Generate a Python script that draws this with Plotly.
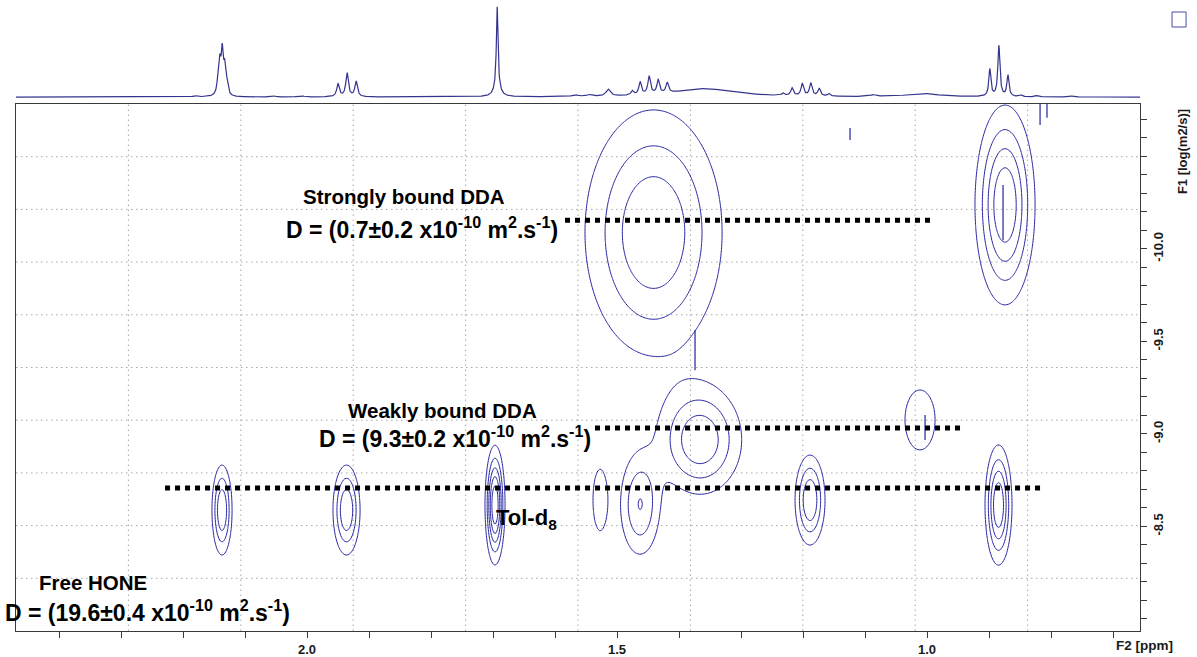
import numpy as np
import plotly.graph_objects as go

# ---------------- 1D projection (F2) : line list ----------------
# chemical shift [ppm], height [% of tallest line], full width at half height [ppm]
proj_ppm = [2.1805, 2.1436, 2.1406, 2.1368, 2.1329, 2.1290, 2.0531, 2.0093,
            1.9500, 1.9354, 1.9208, 1.6933, 1.6933, 1.5678, 1.5445, 1.5143,
            1.4754, 1.4628, 1.4482, 1.4336, 1.4190, 1.3597,
            1.2323, 1.2177, 1.2011, 1.1875, 1.1739, 1.1583, 1.0873, 1.0066,
            0.8987, 0.8841, 0.8695, 0.8491, 0.8228, 0.7664]
proj_height = [1.5, 14, 34, 48, 30, 12, 1.2, 1.5,
               15, 28, 18, 92, 14, 2, 2, 8,
               5, 15, 21, 16, 12, 10,
               3, 9, 14, 15, 9, 3, 2, 4,
               32, 60, 25, 2, 1.5, 1]
proj_fwhm = [0.008, 0.004, 0.004, 0.004, 0.004, 0.004, 0.008, 0.010,
             0.005, 0.005, 0.005, 0.003, 0.010, 0.010, 0.010, 0.008,
             0.005, 0.005, 0.005, 0.005, 0.005, 0.120,
             0.005, 0.005, 0.005, 0.005, 0.005, 0.005, 0.010, 0.060,
             0.004, 0.004, 0.004, 0.006, 0.006, 0.008]

# ---------------- 2D DOSY cross peaks ----------------
# F2 shift [ppm], F1 log(D) [log(m2/s)], gaussian widths in both dimensions, intensity
dosy_ppm = [1.4411, 0.8742, 1.3660, 1.0113,
            2.1371, 1.9363, 1.6968, 1.4629, 1.5274, 1.1887, 0.8847]
dosy_logd = [-10.088, -10.237, -8.966, -9.075,
             -8.588, -8.588, -8.615, -8.615, -8.642, -8.642, -8.615]
dosy_sppm = [0.0664, 0.0270, 0.0407, 0.0250,
             0.0097, 0.0131, 0.0085, 0.0210, 0.0104, 0.0145, 0.0121]
dosy_slogd = [0.398, 0.301, 0.178, 0.167,
              0.146, 0.146, 0.171, 0.179, 0.150, 0.146, 0.181]
dosy_amp = [4.0, 5.0, 3.85, 1.6,
            4.0, 4.0, 6.0, 3.0, 1.8, 4.0, 5.0]

# t1-noise streaks: F2 position [ppm], log(D) start and end
streak_ppm = [1.3742, 1.1242, 0.8177, 0.8065, 0.8774, 1.0032]
streak_from = [-9.560, -10.653, -10.783, -10.783, -10.345, -9.102]
streak_to = [-9.343, -10.588, -10.670, -10.708, -10.047, -8.967]

# ---------------- species and diffusion coefficients ----------------
species = ["Strongly bound DDA", "Weakly bound DDA", "Free HONE"]
d_value = [0.7, 9.3, 19.6]    # x1e-10 m2/s
d_error = [0.2, 0.2, 0.4]     # x1e-10 m2/s

# tick labels
f2_ticks = [2.0, 1.5, 1.0]
f1_ticks = [-10.0, -9.5, -9.0, -8.5]

# ---------------- layout constants ----------------
X_RANGE = [2.4694, 0.6565]
Y_RANGE = [-7.9342, -10.7829]        # bottom, top (log D increases downwards)
W, H = 1197, 657
ML, MR, MT, MB = 16, 57, 0, 26
MAIN_TOP = 0.8352                    # 2D frame: lower part of the paper
PROJ_BOTTOM = 0.8447                 # 1D projection: strip above the frame

CONTOUR_COLOR = "#2222a0"
PROJ_COLOR = "#34348f"
FRAME_COLOR = "#3a3a3a"
GRID_COLOR = "#a8a8a8"
AXIS_TEXT = "#1a1a1a"
FONT = "Liberation Sans, Arial, sans-serif"

# ---------------- build the traces ----------------
xs = np.linspace(X_RANGE[0], X_RANGE[1], 5000)
spec = np.zeros_like(xs)
for p, h, w in zip(proj_ppm, proj_height, proj_fwhm):
    spec += h / (1.0 + ((xs - p) / (w / 2.0)) ** 2)

xg = np.linspace(X_RANGE[0], X_RANGE[1], 760)
yg = np.linspace(Y_RANGE[1], Y_RANGE[0], 360)
XX, YY = np.meshgrid(xg, yg)
ZZ = np.zeros_like(XX)
for p, d, sp, sd, a in zip(dosy_ppm, dosy_logd, dosy_sppm, dosy_slogd, dosy_amp):
    ZZ += a * np.exp(-0.5 * ((XX - p) / sp) ** 2 - 0.5 * ((YY - d) / sd) ** 2)
ZZ = np.round(ZZ, 3)

fig = go.Figure()

fig.add_trace(go.Contour(
    x=xg, y=yg, z=ZZ,
    xaxis="x", yaxis="y",
    contours=dict(start=1, end=8, size=1, coloring="lines"),
    colorscale=[[0, CONTOUR_COLOR], [1, CONTOUR_COLOR]],
    line=dict(width=1),
    showscale=False, hoverinfo="skip",
))

# streaks drawn as short vertical segments (None separates them)
sx, sy = [], []
for p, a, b in zip(streak_ppm, streak_from, streak_to):
    sx += [p, p, None]
    sy += [a, b, None]
fig.add_trace(go.Scatter(
    x=sx, y=sy, xaxis="x", yaxis="y", mode="lines",
    line=dict(color=CONTOUR_COLOR, width=1.2), hoverinfo="skip", connectgaps=False,
))

fig.add_trace(go.Scatter(
    x=xs, y=spec, xaxis="x2", yaxis="y2",
    mode="lines", line=dict(color=PROJ_COLOR, width=1.2),
    hoverinfo="skip",
))

# ---------------- diffusion guide lines and labels ----------------
line_span = [(1.5839, 0.9903), (1.5355, 0.9419), (2.2290, 0.8177)]
title_pos = [(1.8435, -10.2855), (1.7815, -9.1234), (2.3460, -8.1937)]
dlabel_pos = [(1.8153, -10.1126), (1.7613, -8.9829), (2.2573, -8.0424)]

shapes = []
annotations = []
for name, d, e, span, tp, dp in zip(species, d_value, d_error, line_span, title_pos, dlabel_pos):
    level = float(np.log10(d * 1e-10))
    shapes.append(dict(type="line", xref="x", yref="y",
                       x0=span[0], x1=span[1], y0=level, y1=level,
                       line=dict(color="black", width=5, dash="dot"), layer="above"))
    annotations.append(dict(x=tp[0], y=tp[1], xref="x", yref="y", text=f"<b>{name}</b>",
                            showarrow=False, xanchor="center", yanchor="middle",
                            font=dict(family=FONT, size=20.5, color="black")))
    annotations.append(dict(x=dp[0], y=dp[1], xref="x", yref="y",
                            text=f"<b>D = ({d}±{e} x10<sup>-10</sup> m<sup>2</sup>.s<sup>-1</sup>)</b>",
                            showarrow=False, xanchor="center", yanchor="middle",
                            font=dict(family=FONT, size=23, color="black")))

annotations.append(dict(x=1.6984, y=-8.5396, xref="x", yref="y", text="<b>Tol-d<sub>8</sub></b>",
                        showarrow=False, xanchor="left", yanchor="middle",
                        font=dict(family=FONT, size=22, color="black")))

# axis titles in the Bruker style
annotations.append(dict(x=1.0311, y=-0.0222, xref="paper", yref="paper", text="<b>F2 [ppm]</b>",
                        showarrow=False, xanchor="right", yanchor="middle",
                        font=dict(family=FONT, size=13.5, color=AXIS_TEXT)))
annotations.append(dict(x=1.0374, y=0.759, xref="paper", yref="paper", text="<b>F1 [log(m2/s)]</b>",
                        textangle=-90, showarrow=False, xanchor="center", yanchor="middle",
                        font=dict(family=FONT, size=13, color=AXIS_TEXT)))

# dotted grid, 10 x 10 divisions of the 2D frame
for k in range(1, 10):
    shapes.append(dict(type="line", xref="x domain", yref="y domain",
                       x0=k / 10, x1=k / 10, y0=0, y1=1,
                       line=dict(color=GRID_COLOR, width=1, dash="1.5px,3.5px"), layer="below"))
    shapes.append(dict(type="line", xref="x domain", yref="y domain",
                       x0=0, x1=1, y0=k / 10, y1=k / 10,
                       line=dict(color=GRID_COLOR, width=1, dash="1.5px,3.5px"), layer="below"))

# small window marker in the top right corner
shapes.append(dict(type="rect", xref="paper", yref="paper",
                   x0=1.0285, x1=1.0410, y0=0.9572, y1=0.9810,
                   line=dict(color="#4a4aa0", width=1), fillcolor="rgba(0,0,0,0)"))

tick_font = dict(family=FONT, size=13, color=AXIS_TEXT, weight="bold")

fig.update_layout(
    width=W, height=H,
    margin=dict(l=ML, r=MR, t=MT, b=MB),
    paper_bgcolor="white", plot_bgcolor="white",
    showlegend=False,
    font=dict(family=FONT, size=13, color=AXIS_TEXT),
    xaxis=dict(domain=[0, 1], range=X_RANGE, anchor="y",
               showline=True, linecolor=FRAME_COLOR, linewidth=1, mirror=True,
               showgrid=False, zeroline=False,
               tickmode="array", tickvals=f2_ticks, ticktext=[f"{t:.1f}" for t in f2_ticks],
               ticks="outside", ticklen=6, tickcolor=FRAME_COLOR,
               minor=dict(tickmode="linear", tick0=0, dtick=0.1, ticks="outside",
                          ticklen=6, tickcolor=FRAME_COLOR, showgrid=False),
               tickfont=tick_font),
    yaxis=dict(domain=[0, MAIN_TOP], range=Y_RANGE, anchor="x", side="right",
               showline=True, linecolor=FRAME_COLOR, linewidth=1, mirror=True,
               showgrid=False, zeroline=False,
               tickmode="array", tickvals=f1_ticks, ticktext=[f"{t:.1f}" for t in f1_ticks],
               ticks="outside", ticklen=6, tickcolor=FRAME_COLOR, tickangle=-90,
               minor=dict(tickmode="linear", tick0=0, dtick=0.1, ticks="outside",
                          ticklen=6, tickcolor=FRAME_COLOR, showgrid=False),
               tickfont=tick_font),
    xaxis2=dict(domain=[0, 1], range=X_RANGE, anchor="y2", matches="x", visible=False),
    yaxis2=dict(domain=[PROJ_BOTTOM, 1], range=[-1, 114.3], anchor="x2", visible=False),
    shapes=shapes,
    annotations=annotations,
)

fig.write_html("out.html")
